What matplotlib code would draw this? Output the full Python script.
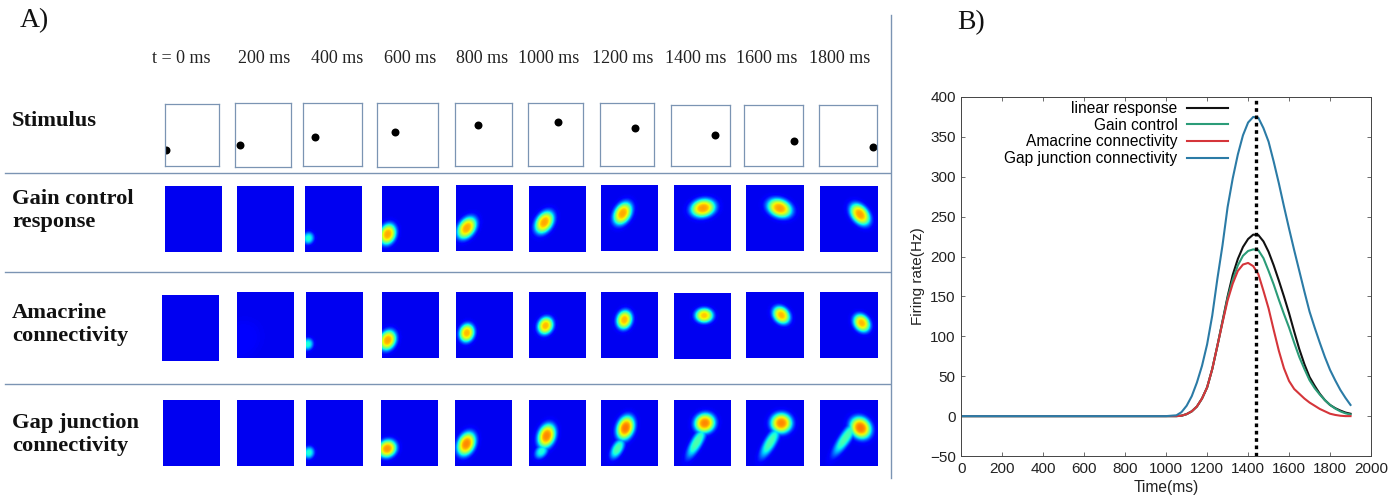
import numpy as np
import matplotlib
matplotlib.use("Agg")
import matplotlib.pyplot as plt
from matplotlib.lines import Line2D

W, H = 1397, 498
SERIF = "Liberation Serif"
SANS = "Liberation Sans"
LINE_COL = "#7b94b3"

time_labels = ["t = 0 ms", "200 ms", "400 ms", "600 ms", "800 ms",
               "1000 ms", "1200 ms", "1400 ms", "1600 ms", "1800 ms"]
row_labels = ["Stimulus", "Gain control\nresponse", "Amacrine\nconnectivity", "Gap junction\nconnectivity"]

# stimulus dot position inside each box (fraction of box, y up)
stim_x = [0.02, 0.09, 0.20, 0.30, 0.41, 0.55, 0.645, 0.75, 0.84, 0.93]
stim_y = [0.26, 0.34, 0.46, 0.55, 0.65, 0.70, 0.60, 0.51, 0.41, 0.31]

# blobs per panel: x, y (fraction of panel), major, minor (px), angle (deg), peak
gain_blobs = [
    [], [],
    [(0.06, 0.21, 4.2, 3.8, 70, 0.32)],
    [(0.10, 0.27, 7.4, 5.6, 70, 0.70)],
    [(0.19, 0.35, 8.4, 5.7, 55, 0.70)],
    [(0.27, 0.45, 8.4, 5.7, 58, 0.70)],
    [(0.38, 0.57, 8.4, 5.7, 60, 0.70)],
    [(0.51, 0.65, 8.6, 6.2, 12, 0.71)],
    [(0.58, 0.65, 8.6, 6.2, -22, 0.71)],
    [(0.69, 0.57, 8.4, 5.6, -52, 0.71)],
]
amacrine_blobs = [
    [],
    [(0.08, 0.28, 14, 12, 45, 0.02)],
    [(0.03, 0.21, 4.2, 3.8, 70, 0.32)],
    [(0.10, 0.27, 7.2, 5.6, 65, 0.70)],
    [(0.19, 0.38, 6.4, 5.2, 75, 0.68)],
    [(0.29, 0.49, 6.2, 5.2, 65, 0.68)],
    [(0.41, 0.58, 6.6, 5.3, 75, 0.68)],
    [(0.53, 0.66, 6.2, 5.0, 0, 0.66)],
    [(0.61, 0.65, 6.6, 5.2, -50, 0.68)],
    [(0.72, 0.53, 6.6, 5.2, -55, 0.68)],
]
gap_blobs = [
    [], [],
    [(0.05, 0.20, 4.2, 3.8, 70, 0.32)],
    [(0.11, 0.26, 6.6, 5.8, 30, 0.72)],
    [(0.20, 0.33, 8.4, 5.9, 65, 0.74)],
    [(0.31, 0.45, 8.4, 5.9, 70, 0.74), (0.22, 0.22, 5.5, 3.8, 50, 0.32)],
    [(0.43, 0.57, 8.4, 5.9, 70, 0.76), (0.29, 0.26, 7.5, 3.8, 60, 0.38)],
    [(0.54, 0.64, 7.2, 6.6, 20, 0.74), (0.40, 0.355, 12, 3.9, 60, 0.38)],
    [(0.61, 0.64, 7.2, 6.8, 0, 0.74), (0.42, 0.355, 12, 3.9, 60, 0.38)],
    [(0.70, 0.57, 7.9, 6.8, -50, 0.76), (0.44, 0.42, 14, 3.9, 56, 0.38)],
]

times = [0, 1000, 1050, 1075, 1100, 1125, 1150, 1175, 1200, 1225, 1250, 1275, 1300, 1325,
         1350, 1375, 1400, 1425, 1450, 1475, 1500, 1525, 1550, 1575, 1600, 1625,
         1650, 1675, 1700, 1725, 1750, 1775, 1800, 1825, 1850, 1875, 1900]
linear = [0, 0, 0, 0.5, 2.5, 6, 12, 22, 36, 59, 88, 119, 150, 177,
          197, 212, 222, 227.5, 227, 219, 206, 189, 170, 150, 129, 106,
          84, 65, 49, 38, 28, 20, 14, 10, 7, 4.5, 3]
gain = [0, 0, 0, 0.5, 2.5, 6, 12, 22, 36, 59, 88, 118, 148, 171,
        189, 201, 207, 209, 208, 198, 182, 165, 146, 128, 111, 92,
        74, 59, 45, 35, 27, 20, 14, 9.5, 6, 3.5, 2]
amacrine = [0, 0, 0, 0.5, 2.5, 6, 12, 22, 36, 59, 88, 117, 145, 166,
            182, 190, 192, 188, 178, 157, 135, 108, 82, 60, 44, 34,
            28, 22, 17, 13, 9, 6, 3, 1.5, 0.5, 0, 0]
gap = [0, 0, 1, 5, 13, 25, 42, 63, 90, 126, 172, 214, 262, 298,
       328, 352, 368, 375, 374, 361, 344, 319, 292, 263, 235, 208,
       182, 156, 131, 111, 92, 74, 58, 45, 33, 23, 14]
curve_labels = ["linear response", "Gain control", "Amacrine connectivity", "Gap junction connectivity"]
curve_colors = ["#111111", "#2b9c78", "#d5353a", "#2b7ba6"]
peak_time = 1437


def px_axes(fig, left, right, top, bottom):
    return fig.add_axes([left / W, 1 - bottom / H, (right - left) / W, (bottom - top) / H])


def render_blobs(blobs, w, h):
    xx, yy = np.meshgrid(np.arange(w) + 0.5, np.arange(h) + 0.5)
    field = np.zeros_like(xx)
    for bx, by, major, minor, angle, peak in blobs:
        a = np.deg2rad(angle)
        dx = xx - bx * w
        dy = yy - by * h
        u = dx * np.cos(a) + dy * np.sin(a)
        v = -dx * np.sin(a) + dy * np.cos(a)
        # flat topped, the reference blobs have a fairly sharp edge
        r2 = 0.5 * ((u / major) ** 2 + (v / minor) ** 2)
        field = np.maximum(field, peak * np.exp(-r2 ** 1.5))
    return field


fig = plt.figure(figsize=(W / 100, H / 100), dpi=100)

# page level axes in pixels, for separators and labels
page = fig.add_axes([0, 0, 1, 1])
page.set_xlim(0, W)
page.set_ylim(H, 0)
page.axis("off")

for y in (173, 272, 384):
    page.plot([5, 890], [y, y], color=LINE_COL, lw=1)
page.plot([890.5, 890.5], [15, 478], color=LINE_COL, lw=1)

page.text(20, 21, "A)", family=SERIF, fontsize=20, va="center", color="#111111")
page.text(957, 23, "B)", family=SERIF, fontsize=20, va="center", color="#111111")

label_x = [181, 264, 337, 410, 482, 549, 623, 696, 767, 840]
for x, s in zip(label_x, time_labels):
    page.text(x, 58, s, family=SERIF, fontsize=13, ha="center", va="center", color="#222222")

for y, s in zip((121, 210, 324, 434), row_labels):
    page.text(12, y, s, family=SERIF, fontsize=16.2, fontweight="bold", va="center",
              linespacing=1.2, color="#111111")

# stimulus boxes
stim_left = [165, 235, 303, 377, 455, 527.5, 600, 671, 744, 818.5]
stim_right = [219, 291, 362, 438, 512, 583, 653.5, 729.5, 803, 877]
stim_top = [104, 103, 103, 103, 103, 103, 103, 105, 105, 105]
stim_bottom = [166, 167, 166, 167, 166, 166, 166, 166, 166, 166]
for i in range(10):
    ax = px_axes(fig, stim_left[i], stim_right[i], stim_top[i], stim_bottom[i])
    ax.scatter([stim_x[i]], [stim_y[i]], s=33, color="black", linewidths=0)
    ax.set_xlim(0, 1)
    ax.set_ylim(0, 1)
    ax.set_xticks([])
    ax.set_yticks([])
    for sp in ax.spines.values():
        sp.set_color(LINE_COL)
        sp.set_linewidth(0.9)

# response heat maps
heat_rows = [
    (gain_blobs, [165, 237, 305, 382, 456, 529, 601, 674, 746, 820],
     [186, 186, 186, 186, 185, 186, 185, 185, 185, 186]),
    (amacrine_blobs, [162, 237, 306, 382, 456, 529, 601, 674, 746, 820],
     [295, 292, 292, 292, 292, 292, 292, 293, 292, 292]),
    (gap_blobs, [163, 237, 306, 381, 455, 529, 601, 674, 746, 820],
     [400, 400, 400, 400, 400, 400, 400, 400, 400, 400]),
]
for blobs, lefts, tops in heat_rows:
    for i in range(10):
        ax = px_axes(fig, lefts[i], lefts[i] + 57, tops[i], tops[i] + 66)
        field = render_blobs(blobs[i], 57, 66)
        ax.imshow(field, cmap="jet", vmin=-0.11, vmax=1.0, origin="lower",
                  aspect="auto", interpolation="bilinear")
        ax.set_xticks([])
        ax.set_yticks([])
        for sp in ax.spines.values():
            sp.set_visible(False)

# panel B
axb = px_axes(fig, 961.3, 1371, 97, 456)
for values, color in zip((linear, gain, amacrine, gap), curve_colors):
    axb.plot(times, values, color=color, lw=1.5)
axb.axvline(peak_time, color="black", lw=2.4, linestyle=(0, (1.1, 1.1)))
axb.set_xlim(0, 2000)
axb.set_ylim(-50, 400)
axb.set_xticks(np.arange(0, 2001, 200))
axb.set_yticks(np.arange(-50, 401, 50))
axb.tick_params(direction="in", top=True, right=True, length=3, width=0.6, color="#555555",
                labelsize=11, labelcolor="#222222", pad=4)
for lab in axb.get_xticklabels() + axb.get_yticklabels():
    lab.set_family(SANS)
axb.set_xlabel("Time(ms)", family=SANS, fontsize=11.2, color="#222222", labelpad=3.5)
axb.set_ylabel("Firing rate(Hz)", family=SANS, fontsize=11, color="#222222", labelpad=3.5)
for sp in axb.spines.values():
    sp.set_color("#444444")
    sp.set_linewidth(0.7)

handles = [Line2D([], [], color=c, lw=1.5) for c in curve_colors]
axb.legend(handles, curve_labels, loc="upper right", bbox_to_anchor=(0.6505, 0.988), markerfirst=False,
           frameon=False, prop={"family": SANS, "size": 11.2}, handlelength=2.6, handletextpad=0.64,
           labelspacing=0.1, borderaxespad=0, borderpad=0)

fig.savefig("out.png", dpi=100)
